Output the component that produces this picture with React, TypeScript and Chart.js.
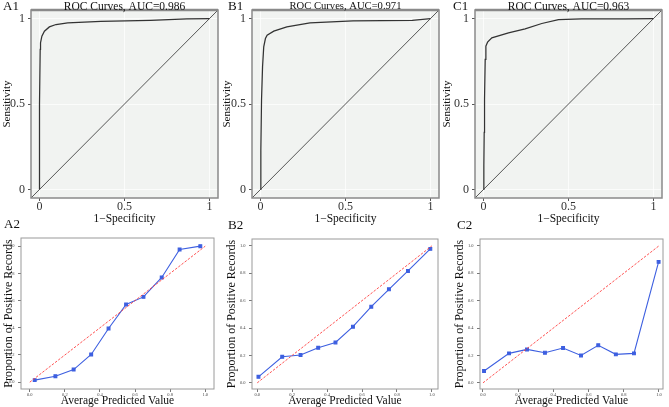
import React, { useEffect, useRef } from "react";
import { Chart, registerables } from "chart.js";
Chart.register(...registerables);

const FONT = '"Liberation Serif", "Times New Roman", serif';

// ---------- ROC curves (top row) ----------
const rocA1Fpr = [0, 0, 0.004, 0.006, 0.014, 0.029, 0.058, 0.097, 0.166, 0.361, 0.653, 0.867, 1];
const rocA1Tpr = [0, 0.5, 0.819, 0.858, 0.897, 0.926, 0.951, 0.965, 0.975, 0.983, 0.99, 0.998, 1];

const rocB1Fpr = [0, 0.002, 0.006, 0.012, 0.019, 0.029, 0.039, 0.078, 0.155, 0.291, 0.544, 0.893, 1];
const rocB1Tpr = [0, 0.23, 0.522, 0.717, 0.834, 0.883, 0.903, 0.926, 0.951, 0.975, 0.986, 0.99, 1];

const rocC1Fpr = [0, 0.002, 0.004, 0.006, 0.01, 0.014, 0.024, 0.049, 0.147, 0.245, 0.343, 0.441, 0.578, 0.833, 1];
const rocC1Tpr = [0, 0.14, 0.334, 0.528, 0.761, 0.839, 0.862, 0.887, 0.916, 0.94, 0.971, 0.994, 0.998, 0.998, 1];

const rocTitles = ["ROC Curves, AUC=0.986", "ROC Curves, AUC=0.971", "ROC Curves, AUC=0.963"];
const diagX = [-0.05, 1.05];
const diagY = [-0.05, 1.05];
const rocTickValues = [0, 0.5, 1];
const rocTickLabels = ["0", "0.5", "1"];

// ---------- Calibration curves (bottom row) ----------
const calA2Pred = [0.028, 0.146, 0.25, 0.35, 0.449, 0.549, 0.648, 0.752, 0.854, 0.972];
const calA2Obs = [0.015, 0.044, 0.093, 0.204, 0.395, 0.571, 0.627, 0.77, 0.976, 1.0];

const calB2Pred = [0.007, 0.143, 0.248, 0.349, 0.448, 0.548, 0.653, 0.754, 0.863, 0.991];
const calB2Obs = [0.044, 0.19, 0.203, 0.256, 0.295, 0.41, 0.556, 0.683, 0.817, 0.978];

const calC2Pred = [0.006, 0.148, 0.25, 0.352, 0.455, 0.557, 0.655, 0.755, 0.858, 0.998];
const calC2Obs = [0.086, 0.215, 0.244, 0.22, 0.254, 0.2, 0.274, 0.208, 0.215, 0.883];

const perfectX = [0, 1];
const perfectY = [0, 1];
const calTickValues = [0, 0.2, 0.4, 0.6, 0.8, 1.0];
const calTickLabels = ["0.0", "0.2", "0.4", "0.6", "0.8", "1.0"];

const pts = (xs: number[], ys: number[]) => xs.map((x, i) => ({ x, y: ys[i] }));

const panelDecor = {
  id: "panelDecor",
  beforeDraw(chart: any, _a: any, o: any) {
    const { ctx, chartArea: a } = chart;
    if (o.bg) {
      ctx.save();
      ctx.fillStyle = o.bg;
      ctx.fillRect(a.left, a.top, a.right - a.left, a.bottom - a.top);
      ctx.restore();
    }
  },
  afterDatasetsDraw(chart: any, _a: any, o: any) {
    const { ctx, chartArea: a } = chart;
    ctx.save();
    ctx.strokeStyle = o.border;
    ctx.lineWidth = o.borderWidth;
    ctx.strokeRect(a.left, a.top, a.right - a.left, a.bottom - a.top);
    if (o.topWidth) {
      ctx.lineWidth = o.topWidth;
      ctx.beginPath();
      ctx.moveTo(a.left, a.top);
      ctx.lineTo(a.right, a.top);
      ctx.stroke();
    }
    ctx.restore();
  },
  afterDraw(chart: any, _a: any, o: any) {
    const { ctx, chartArea: a } = chart;
    ctx.save();
    ctx.fillStyle = "#111";
    ctx.textBaseline = "middle";
    if (o.title) {
      ctx.font = o.titleFont;
      ctx.textAlign = "center";
      ctx.fillText(o.title, (a.left + a.right) / 2, o.titleY);
    }
    if (o.label) {
      ctx.font = o.labelFont;
      ctx.textAlign = "left";
      ctx.fillText(o.label, o.labelX, o.labelY);
    }
    ctx.restore();
  },
};

type Panel = {
  left: number; top: number; w: number; h: number;
  pad: { left: number; right: number; top: number; bottom: number };
  yW: number; xH: number; yTitlePad: number;
  kind: "roc" | "cal";
  xMin: number; xMax: number; yMin: number; yMax: number;
  xs: number[]; ys: number[];
  title?: string; titleFont?: string;
  label: string; labelX: number; labelY: number;
};

function buildConfig(p: Panel): any {
  const roc = p.kind === "roc";
  const tv = roc ? rocTickValues : calTickValues;
  const tl = roc ? rocTickLabels : calTickLabels;
  const tickFont = roc ? { family: FONT, size: 12, lineHeight: 1 } : { family: FONT, size: 4.5, lineHeight: 1 };
  const tickColor = roc ? "#333" : "#444";
  const datasets = roc
    ? [
        { data: pts(diagX, diagY), showLine: true, borderColor: "#444", borderWidth: 0.9, pointRadius: 0, fill: false },
        { data: pts(p.xs, p.ys), showLine: true, borderColor: "#333", borderWidth: 1.25, pointRadius: 0, fill: false },
      ]
    : [
        { data: pts(perfectX, perfectY), showLine: true, borderColor: "#ff4040", borderWidth: 0.9, borderDash: [2.5, 1.5], pointRadius: 0, fill: false },
        { data: pts(p.xs, p.ys), showLine: true, borderColor: "#3d5fe0", backgroundColor: "#3d5fe0", borderWidth: 1.1, pointRadius: 2, pointStyle: "rect", fill: false },
      ];
  const mkScale = (axis: "x" | "y") => ({
    type: "linear",
    min: axis === "x" ? p.xMin : p.yMin,
    max: axis === "x" ? p.xMax : p.yMax,
    afterBuildTicks: (s: any) => {
      s.ticks = tv.map((value) => ({ value }));
    },
    afterFit: (s: any) => {
      if (axis === "x") s.height = p.xH;
      else s.width = p.yW;
    },
    ticks: {
      autoSkip: false,
      maxRotation: 0,
      padding: roc ? (axis === "x" ? 0 : 3) : (axis === "x" ? 1 : 3.5),
      font: tickFont,
      color: tickColor,
      callback: (v: number) => {
        const i = tv.findIndex((t) => Math.abs(t - v) < 1e-9);
        return i >= 0 ? tl[i] : "";
      },
    },
    grid: roc
      ? { display: true, drawOnChartArea: true, color: "rgba(255,255,255,0.9)", lineWidth: 0.8, drawTicks: true, tickLength: 3, tickColor: "#555", tickWidth: 1 }
      : { display: true, drawOnChartArea: false, drawTicks: true, tickLength: 3, tickColor: "#555", tickWidth: 0.8 },
    border: { display: false },
    title: {
      display: true,
      text: axis === "x" ? (roc ? "1\u2212Specificity" : "Average Predicted Value") : (roc ? "Sensitivity" : "Proportion of Positive Records"),
      color: "#111",
      font: { family: FONT, size: axis === "x" ? 11.5 : roc ? 11 : 12, lineHeight: 1 },
      padding: axis === "x" ? { top: 0, bottom: roc ? 1 : 0 } : { top: p.yTitlePad, bottom: 0 },
    },
  });
  return {
    type: "scatter",
    data: { datasets },
    options: {
      responsive: false,
      animation: false,
      devicePixelRatio: 1,
      layout: { padding: p.pad },
      scales: { x: mkScale("x"), y: mkScale("y") },
      plugins: {
        legend: { display: false },
        tooltip: { enabled: false },
        panelDecor: {
          bg: roc ? "#f1f3f1" : null,
          border: roc ? "#8a8a8a" : "#9a9a9a",
          borderWidth: roc ? 1.5 : 1,
          topWidth: roc ? 2.6 : 0,
          title: p.title,
          titleFont: p.titleFont,
          titleY: 6.5,
          label: p.label,
          labelFont: `13px ${FONT}`,
          labelX: p.labelX,
          labelY: p.labelY,
        },
      },
    },
    plugins: [panelDecor],
  };
}

const topPad = { left: 0, right: 4, top: 10, bottom: 0 };
const panels: Panel[] = [
  { left: 0, top: 0, w: 222, h: 226, pad: topPad, yW: 31, xH: 28, yTitlePad: 1.2, kind: "roc", xMin: -0.05, xMax: 1.05, yMin: -0.05, yMax: 1.05, xs: rocA1Fpr, ys: rocA1Tpr, title: rocTitles[0], titleFont: `11.5px ${FONT}`, label: "A1", labelX: 3, labelY: 7 },
  { left: 221, top: 0, w: 222, h: 226, pad: topPad, yW: 31, xH: 28, yTitlePad: 0.5, kind: "roc", xMin: -0.05, xMax: 1.05, yMin: -0.05, yMax: 1.05, xs: rocB1Fpr, ys: rocB1Tpr, title: rocTitles[1], titleFont: `10.6px ${FONT}`, label: "B1", labelX: 7, labelY: 7 },
  { left: 440, top: 0, w: 226, h: 226, pad: topPad, yW: 35, xH: 28, yTitlePad: 1.2, kind: "roc", xMin: -0.05, xMax: 1.05, yMin: -0.05, yMax: 1.05, xs: rocC1Fpr, ys: rocC1Tpr, title: rocTitles[2], titleFont: `11.5px ${FONT}`, label: "C1", labelX: 13, labelY: 7 },
  { left: 0, top: 212, w: 222, h: 195, pad: { left: 0, right: 8, top: 26, bottom: 0 }, yW: 21, xH: 18, yTitlePad: 3, kind: "cal", xMin: -0.05, xMax: 1.05, yMin: -0.05, yMax: 1.06, xs: calA2Pred, ys: calA2Obs, label: "A2", labelX: 4, labelY: 13 },
  { left: 222, top: 212, w: 222, h: 195, pad: { left: 0, right: 6, top: 27, bottom: 0 }, yW: 30, xH: 18, yTitlePad: 4, kind: "cal", xMin: -0.03, xMax: 1.035, yMin: -0.045, yMax: 1.05, xs: calB2Pred, ys: calB2Obs, label: "B2", labelX: 6, labelY: 14 },
  { left: 444, top: 212, w: 225, h: 195, pad: { left: 0, right: 6, top: 27, bottom: 0 }, yW: 36, xH: 18, yTitlePad: 10, kind: "cal", xMin: -0.017, xMax: 1.023, yMin: -0.045, yMax: 1.05, xs: calC2Pred, ys: calC2Obs, label: "C2", labelX: 13, labelY: 14 },
];

function PanelChart({ p }: { p: Panel }) {
  const ref = useRef<HTMLCanvasElement>(null);
  useEffect(() => {
    const chart = new Chart(ref.current as HTMLCanvasElement, buildConfig(p));
    return () => chart.destroy();
  }, []);
  return (
    <canvas
      ref={ref}
      width={p.w}
      height={p.h}
      style={{ position: "absolute", left: p.left, top: p.top, width: p.w, height: p.h }}
    />
  );
}

export default function App() {
  return (
    <div style={{ position: "fixed", left: 0, top: 0, width: 669, height: 407, background: "#ffffff", overflow: "hidden" }}>
      {panels.map((p, i) => (
        <PanelChart key={i} p={p} />
      ))}
    </div>
  );
}
